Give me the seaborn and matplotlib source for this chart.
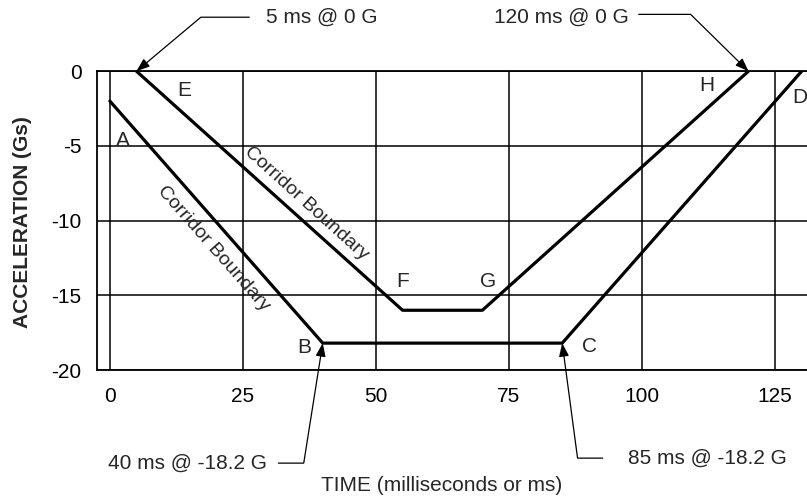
import numpy as np
import pandas as pd
import seaborn as sns
import matplotlib.pyplot as plt

# corridor corner points (ms, G)
outer_time = [0, 40, 85, 130]
outer_accel = [-2, -18.2, -18.2, 0]
outer_names = ['A', 'B', 'C', 'D']
inner_time = [5, 55, 70, 120]
inner_accel = [0, -16, -16, 0]
inner_names = ['E', 'F', 'G', 'H']

x_ticks = [0, 25, 50, 75, 100, 125]
y_ticks = [0, -5, -10, -15, -20]

callout_text = ['5 ms @ 0 G', '120 ms @ 0 G', '40 ms @ -18.2 G', '85 ms @ -18.2 G']
callout_time = [5, 120, 40, 85]
callout_accel = [0, 0, -18.2, -18.2]

df = pd.concat([
    pd.DataFrame({'time': outer_time, 'accel': outer_accel, 'boundary': 'outer'}),
    pd.DataFrame({'time': inner_time, 'accel': inner_accel, 'boundary': 'inner'}),
], ignore_index=True)

sns.set_style('white')
plt.rcParams['font.family'] = ['Liberation Sans', 'DejaVu Sans']
plt.rcParams['axes.unicode_minus'] = False

fig = plt.figure(figsize=(8.07, 4.98), dpi=100)
ax = fig.add_axes([0.120, 0.257, 0.880, 0.600])

sns.lineplot(data=df, x='time', y='accel', hue='boundary', units='boundary',
             estimator=None, sort=False, palette=['black', 'black'],
             legend=False, lw=2.3, ax=ax)

ax.set_xlim(-2.45, 131)
ax.set_ylim(-20, 0)
ax.set_xticks(x_ticks)
ax.set_yticks(y_ticks)
ax.grid(True, color='black', lw=1.1)
ax.set_axisbelow(True)
ax.tick_params(length=0, labelsize=15, colors='black')
ax.tick_params(axis='y', pad=11)
ax.tick_params(axis='x', pad=12)
for side in ['left', 'top', 'bottom']:
    ax.spines[side].set_color('black')
    ax.spines[side].set_linewidth(1.3)
ax.spines['right'].set_visible(False)

ax.set_xlabel('TIME (milliseconds or ms)', fontsize=15, va='center')
ax.xaxis.set_label_coords(0.486, -0.385)
ax.set_ylabel('ACCELERATION (Gs)', fontsize=15, fontweight='bold', va='center')
ax.yaxis.set_label_coords(-0.104, 0.495)

# point letters, offset in pixels from their corner
letter_offsets = {'A': (13, -39), 'B': (-18, -4), 'C': (27, -3), 'D': (-2, -26),
                  'E': (48, -19), 'F': (0, 29), 'G': (6, 29), 'H': (-42, -14)}
for names, ts, gs in [(outer_names, outer_time, outer_accel),
                      (inner_names, inner_time, inner_accel)]:
    for n, t, g in zip(names, ts, gs):
        ax.annotate(n, (t, g), xytext=letter_offsets[n], textcoords='offset pixels',
                    ha='center', va='center', fontsize=15, annotation_clip=False)

# "Corridor Boundary" along the two sloped edges
t_up = 37
ax.annotate('Corridor Boundary', (t_up, np.interp(t_up, inner_time, inner_accel)),
            xytext=(0, 21), textcoords='offset pixels', rotation=-42,
            rotation_mode='anchor', ha='center', va='center', fontsize=14)
t_lo = 19.4
ax.annotate('Corridor Boundary', (t_lo, np.interp(t_lo, outer_time, outer_accel)),
            xytext=(0, -30), textcoords='offset pixels', rotation=-48.6,
            rotation_mode='anchor', ha='center', va='center', fontsize=14)

# callouts with bent leader arrows
callout_style = [
    dict(off=(130, 54), ha='left', relpos=(0, 0.5), angB=40, shrink=10),
    dict(off=(-120, 54), ha='right', relpos=(1, 0.65), angB=-44.5, shrink=5),
    dict(off=(-56, -120), ha='right', relpos=(1, 0.5), angB=81, shrink=6),
    dict(off=(66, -115), ha='left', relpos=(0, 0.5), angB=97.6, shrink=16),
]
for txt, t, g, st in zip(callout_text, callout_time, callout_accel, callout_style):
    ax.annotate(txt, (t, g), xytext=st['off'], textcoords='offset pixels',
                ha=st['ha'], va='center', fontsize=15, annotation_clip=False,
                arrowprops=dict(arrowstyle='-|>,head_length=0.8,head_width=0.3',
                                connectionstyle='angle,angleA=0,angleB=%s,rad=0' % st['angB'],
                                relpos=st['relpos'], shrinkA=st['shrink'], shrinkB=0,
                                mutation_scale=10, lw=0.9, color='black', fc='black'))

fig.savefig('out.png', dpi=100, facecolor='white')
